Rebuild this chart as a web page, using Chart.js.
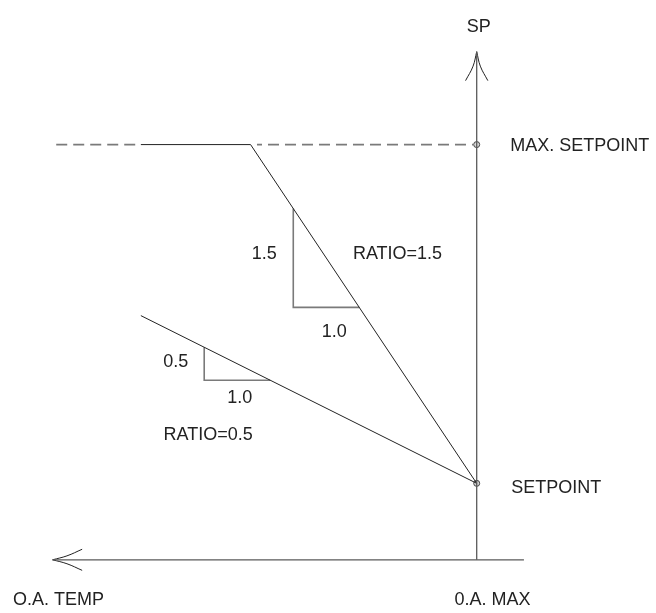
<!DOCTYPE html>
<html>
<head>
<meta charset="utf-8">
<title>Setpoint reset</title>
<script src="https://cdn.jsdelivr.net/npm/chart.js@4"></script>
<style>
  html, body { margin: 0; padding: 0; background: #fff; }
  #resetChart { display: block; }
</style>
</head>
<body>
<canvas id="resetChart" width="656" height="613"></canvas>
<script>
// diagram units: x = O.A. temperature below O.A. MAX (grows to the left), y = setpoint
// one unit = the "1.0" leg of the ratio triangles

// --- axes (with open arrowheads) ---
const spAxis = [{ x: 0, y: 0 }, { x: 0, y: 7.71 }];
const spArrowLeft = [{ x: 0, y: 7.71 }, { x: 0.055, y: 7.49 }, { x: 0.169, y: 7.27 }];
const spArrowRight = [{ x: 0, y: 7.71 }, { x: -0.055, y: 7.49 }, { x: -0.169, y: 7.27 }];
const oaAxis = [{ x: -0.716, y: 0 }, { x: 6.428, y: 0 }];
const oaArrowUp = [{ x: 6.428, y: 0 }, { x: 6.21, y: 0.06 }, { x: 5.98, y: 0.16 }];
const oaArrowDown = [{ x: 6.428, y: 0 }, { x: 6.21, y: -0.06 }, { x: 5.98, y: -0.16 }];

// --- setpoint levels ---
const setpointPoint = [{ x: 0, y: 1.16 }];
const maxSetpointPoint = [{ x: 0, y: 6.3 }];
const maxDashLeft = [{ x: 6.373, y: 6.3 }, { x: 5.13, y: 6.3 }];
const maxDashRight = [{ x: 3.33, y: 6.3 }, { x: 0.05, y: 6.3 }];

// --- reset characteristics ---
const ratio15Line = [{ x: 5.09, y: 6.3 }, { x: 3.427, y: 6.3 }, { x: 0, y: 1.16 }];
const ratio05Line = [{ x: 5.09, y: 3.705 }, { x: 0, y: 1.16 }];

// --- slope triangles ---
const triangle15 = [{ x: 2.78, y: 5.33 }, { x: 2.78, y: 3.83 }, { x: 1.78, y: 3.83 }];
const triangle05 = [{ x: 4.13, y: 3.225 }, { x: 4.13, y: 2.725 }, { x: 3.13, y: 2.725 }];

// --- labels ---
const labelTexts = ["SP", "MAX. SETPOINT", "SETPOINT", "1.5", "1.0", "RATIO=1.5", "0.5", "1.0", "RATIO=0.5", "O.A. TEMP", "0.A. MAX"];
const labelX = [-0.03, -0.507, -0.522, 3.22, 2.16, 1.2, 4.56, 3.59, 4.07, 6.34, -0.24];
const labelY = [8.09, 6.284, 1.09, 4.64, 3.45, 4.64, 3.0, 2.45, 1.9, -0.61, -0.61];
const labelAlign = ["center", "left", "left", "center", "center", "center", "center", "center", "center", "center", "center"];

const axisColor = "#5a5a5a";
const inkColor = "#222222";
const grayColor = "#7a7a7a";

function lineSet(data, color, width, extra) {
  return Object.assign({
    data: data,
    showLine: true,
    borderColor: color,
    borderWidth: width,
    pointRadius: 0,
    fill: false,
    tension: 0,
  }, extra || {});
}

const labelPlugin = {
  id: "diagramLabels",
  afterDatasetsDraw(chart) {
    const ctx = chart.ctx;
    const xs = chart.scales.x;
    const ys = chart.scales.y;
    ctx.save();
    ctx.fillStyle = inkColor;
    ctx.font = '18px "Liberation Sans", Arial, sans-serif';
    ctx.textBaseline = "middle";
    labelTexts.forEach((txt, i) => {
      ctx.textAlign = labelAlign[i];
      ctx.fillText(txt, xs.getPixelForValue(labelX[i]), ys.getPixelForValue(labelY[i]));
    });
    ctx.restore();
  },
};

const ctx = document.getElementById("resetChart").getContext("2d");
new Chart(ctx, {
  type: "scatter",
  data: {
    datasets: [
      lineSet(spAxis, axisColor, 1.3),
      lineSet(spArrowLeft, inkColor, 1, { tension: 0.4 }),
      lineSet(spArrowRight, inkColor, 1, { tension: 0.4 }),
      lineSet(oaAxis, axisColor, 1.3),
      lineSet(oaArrowUp, inkColor, 1, { tension: 0.4 }),
      lineSet(oaArrowDown, inkColor, 1, { tension: 0.4 }),
      lineSet(maxDashLeft, grayColor, 1.6, { borderDash: [11, 6] }),
      lineSet(maxDashRight, grayColor, 1.6, { borderDash: [11, 6], borderDashOffset: 6 }),
      lineSet(ratio15Line, inkColor, 1),
      lineSet(ratio05Line, inkColor, 1),
      lineSet(triangle15, grayColor, 1.6),
      lineSet(triangle05, grayColor, 1.6),
      {
        data: setpointPoint.concat(maxSetpointPoint),
        showLine: false,
        pointRadius: 3,
        pointBackgroundColor: "#d8d8d8",
        pointBorderColor: "#444",
        pointBorderWidth: 1,
      },
    ],
  },
  options: {
    responsive: false,
    animation: false,
    events: [],
    layout: { padding: 0 },
    scales: {
      x: { type: "linear", display: false, reverse: true, min: -2.6418, max: 7.1493 },
      y: { type: "linear", display: false, min: -0.7313, max: 8.4179 },
    },
    plugins: {
      legend: { display: false },
      tooltip: { enabled: false },
    },
  },
  plugins: [labelPlugin],
});
</script>
</body>
</html>
